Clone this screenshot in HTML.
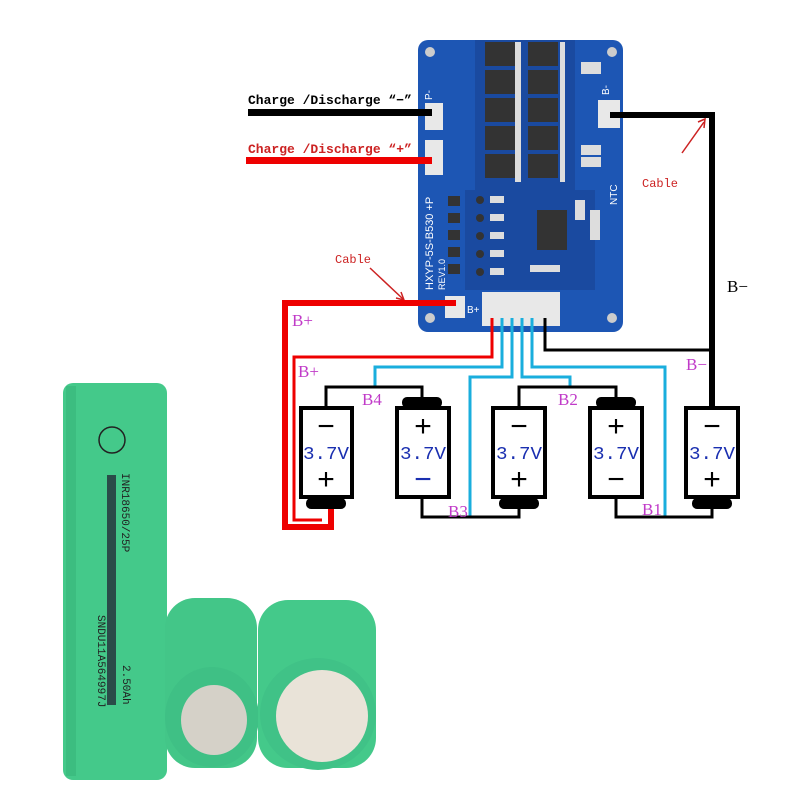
<!DOCTYPE html>
<html><head><meta charset="utf-8"><style>
html,body{margin:0;padding:0;background:#fff}
svg{display:block}
</style></head><body>
<svg width="800" height="800" viewBox="0 0 800 800" xmlns="http://www.w3.org/2000/svg">
<rect width="800" height="800" fill="#fff"/>
<!-- PCB -->
<rect x="418" y="40" width="205" height="292" rx="10" fill="#1d56b4"/>
<rect x="475" y="40" width="100" height="150" fill="#1a4aa0"/>
<rect x="465" y="190" width="130" height="100" fill="#1a4aa0"/>
<g fill="#333">
<rect x="485" y="42" width="30" height="24"/><rect x="528" y="42" width="30" height="24"/>
<rect x="485" y="70" width="30" height="24"/><rect x="528" y="70" width="30" height="24"/>
<rect x="485" y="98" width="30" height="24"/><rect x="528" y="98" width="30" height="24"/>
<rect x="485" y="126" width="30" height="24"/><rect x="528" y="126" width="30" height="24"/>
<rect x="485" y="154" width="30" height="24"/><rect x="528" y="154" width="30" height="24"/>
<rect x="537" y="210" width="30" height="40"/>
<rect x="448" y="196" width="12" height="10"/><rect x="448" y="213" width="12" height="10"/><rect x="448" y="230" width="12" height="10"/><rect x="448" y="247" width="12" height="10"/><rect x="448" y="264" width="12" height="10"/>
<circle cx="480" cy="200" r="4"/><circle cx="480" cy="218" r="4"/><circle cx="480" cy="236" r="4"/><circle cx="480" cy="254" r="4"/><circle cx="480" cy="272" r="4"/>
</g>
<g fill="#ddd">
<rect x="515" y="42" width="6" height="140"/><rect x="560" y="42" width="5" height="140"/>
<rect x="581" y="62" width="20" height="12"/><rect x="581" y="145" width="20" height="10"/><rect x="581" y="157" width="20" height="10"/>
<rect x="490" y="196" width="14" height="7"/><rect x="490" y="214" width="14" height="7"/><rect x="490" y="232" width="14" height="7"/><rect x="490" y="250" width="14" height="7"/><rect x="490" y="268" width="14" height="7"/>
<rect x="530" y="265" width="30" height="7"/><rect x="575" y="200" width="10" height="20"/><rect x="590" y="210" width="10" height="30"/>
</g>
<g fill="#e8e8e8">
<rect x="425" y="103" width="18" height="27"/>
<rect x="425" y="140" width="18" height="35"/>
<rect x="598" y="100" width="22" height="28"/>
<rect x="445" y="296" width="20" height="22"/>
<rect x="482" y="292" width="78" height="34"/>
</g>
<g fill="#ccc"><circle cx="430" cy="52" r="5"/><circle cx="612" cy="52" r="5"/><circle cx="430" cy="318" r="5"/><circle cx="612" cy="318" r="5"/></g>
<g fill="#fff" font-family="Liberation Sans, sans-serif" font-size="11">
<text transform="translate(433,290) rotate(-90)">HXYP-5S-B530 +P</text>
<text transform="translate(445,290) rotate(-90)" font-size="9">REV1.0</text>
<text x="467" y="313" font-size="10">B+</text>
<text transform="translate(617,205) rotate(-90)" font-size="10">NTC</text>
<text transform="translate(609,95) rotate(-90)" font-size="10">B-</text>
<text transform="translate(432,100) rotate(-90)" font-size="10">P-</text>
</g>
<!-- top wires -->
<rect x="248" y="109" width="184" height="7" fill="#000"/>
<rect x="246" y="157" width="186" height="7" fill="#e00"/>
<text x="248" y="104" font-family="Liberation Mono, monospace" font-weight="bold" font-size="13" fill="#000">Charge /Discharge “−”</text>
<text x="248" y="153" font-family="Liberation Mono, monospace" font-weight="bold" font-size="13" fill="#c22">Charge /Discharge  “+”</text>
<!-- right black -->
<polyline points="610,115 712,115 712,408" fill="none" stroke="#000" stroke-width="6"/>
<text x="727" y="292" font-family="Liberation Serif, serif" font-size="17">B−</text>
<text x="642" y="187" font-family="Liberation Mono, monospace" font-size="12" fill="#c22">Cable</text>
<line x1="682" y1="153" x2="704" y2="122" stroke="#c22" stroke-width="1.5"/>
<polyline points="698,122 705,119 704,128" fill="none" stroke="#c22" stroke-width="1.5"/>
<text x="335" y="263" font-family="Liberation Mono, monospace" font-size="12" fill="#c22">Cable</text>
<line x1="370" y1="268" x2="403" y2="299" stroke="#c22" stroke-width="1.5"/>
<polyline points="396,298 404,300 401,292" fill="none" stroke="#c22" stroke-width="1.5"/>
<!-- red B+ -->
<polyline points="456,303 285,303 285,527 331,527 331,505" fill="none" stroke="#e00" stroke-width="6"/>
<polyline points="492,318 492,357 294,357 294,520 322,520" fill="none" stroke="#e00" stroke-width="3"/>
<!-- connector pins -->
<g stroke="#1aaedd" stroke-width="3" fill="none">
<polyline points="502,318 502,367 375,367 375,387"/>
<polyline points="512,318 512,377 470,377 470,517"/>
<polyline points="522,318 522,377 570,377 570,387"/>
<polyline points="532,318 532,367 665,367 665,517"/>
</g>
<polyline points="545,318 545,350 712,350" fill="none" stroke="#000" stroke-width="3"/>
<!-- black links -->
<g stroke="#000" stroke-width="3" fill="none">
<polyline points="326,408 326,387 422,387 422,398"/>
<polyline points="422,498 422,517 519,517 519,505"/>
<polyline points="519,408 519,387 616,387 616,398"/>
<polyline points="616,498 616,517 712,517 712,505"/>
</g>
<!-- batteries -->
<g fill="#fff" stroke="#000" stroke-width="4">
<rect x="301" y="408" width="51" height="89"/>
<rect x="397" y="408" width="52" height="89"/>
<rect x="493" y="408" width="52" height="89"/>
<rect x="590" y="408" width="52" height="89"/>
<rect x="686" y="408" width="52" height="89"/>
</g>
<g fill="#000">
<rect x="306" y="498" width="40" height="11" rx="5"/>
<rect x="402" y="397" width="40" height="11" rx="5"/>
<rect x="499" y="498" width="40" height="11" rx="5"/>
<rect x="596" y="397" width="40" height="11" rx="5"/>
<rect x="692" y="498" width="40" height="11" rx="5"/>
</g>
<g font-family="Liberation Mono, monospace" font-size="18" fill="#1a2fb0" text-anchor="middle" textLength="46">
<text x="326" y="459" textLength="46" lengthAdjust="spacingAndGlyphs">3.7V</text><text x="423" y="459" textLength="46" lengthAdjust="spacingAndGlyphs">3.7V</text><text x="519" y="459" textLength="46" lengthAdjust="spacingAndGlyphs">3.7V</text><text x="616" y="459" textLength="46" lengthAdjust="spacingAndGlyphs">3.7V</text><text x="712" y="459" textLength="46" lengthAdjust="spacingAndGlyphs">3.7V</text>
</g>
<g font-family="Liberation Sans, sans-serif" font-size="30" fill="#000" text-anchor="middle">
<text x="326" y="436">−</text><text x="326" y="489">+</text>
<text x="423" y="436">+</text><text x="423" y="489" fill="#1a2fb0">−</text>
<text x="519" y="436">−</text><text x="519" y="489">+</text>
<text x="616" y="436">+</text><text x="616" y="489">−</text>
<text x="712" y="436">−</text><text x="712" y="489">+</text>
</g>
<g font-family="Liberation Serif, serif" font-size="17" fill="#c03ac8">
<text x="292" y="326">B+</text><text x="298" y="377">B+</text>
<text x="362" y="405">B4</text><text x="558" y="405">B2</text>
<text x="448" y="517">B3</text><text x="642" y="515">B1</text>
<text x="686" y="370">B−</text>
</g>
<!-- battery photo -->
<rect x="63" y="383" width="104" height="397" rx="10" fill="#44c98a"/>
<rect x="66" y="386" width="10" height="390" fill="#3cbd80"/>
<g font-family="Liberation Mono, monospace" font-size="11" fill="#222">
<text transform="translate(122,473) rotate(90)">INR18650/25P</text>
<text transform="translate(98,615) rotate(90)">SNDU11A564997J</text>
<text transform="translate(123,665) rotate(90)">2.50Ah</text>
</g>
<rect x="107" y="475" width="9" height="230" fill="#223" opacity="0.75"/>
<circle cx="112" cy="440" r="13" fill="none" stroke="#222" stroke-width="1.5"/>
<rect x="165" y="598" width="92" height="170" rx="30" fill="#43c688"/>
<ellipse cx="212" cy="717" rx="47" ry="50" fill="#3fc085"/>
<ellipse cx="214" cy="720" rx="33" ry="35" fill="#d5d1c8"/>
<rect x="258" y="600" width="118" height="168" rx="30" fill="#44c98a"/>
<ellipse cx="318" cy="714" rx="58" ry="56" fill="#40c287"/>
<ellipse cx="322" cy="716" rx="46" ry="46" fill="#e9e3d8"/>
</svg>
</body></html>
